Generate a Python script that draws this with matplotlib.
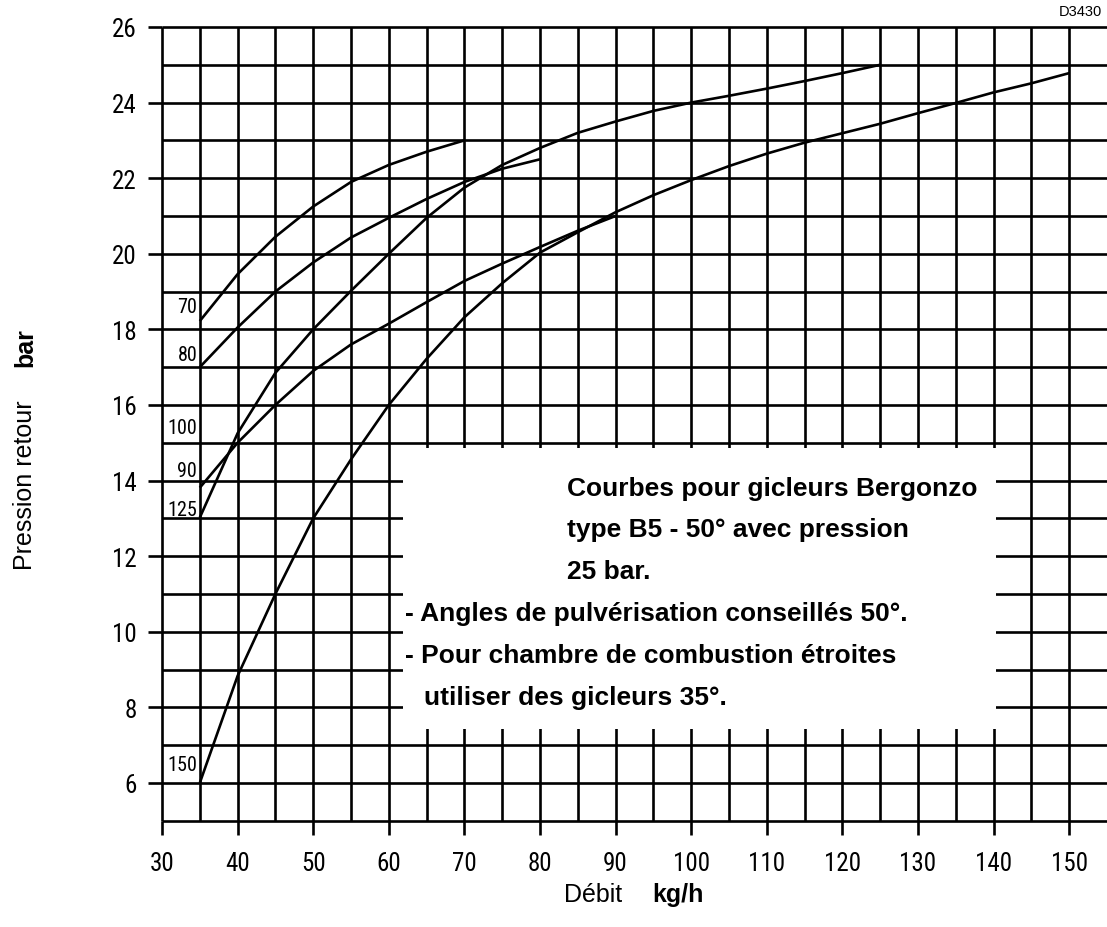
import matplotlib
matplotlib.use("Agg")
import matplotlib.pyplot as plt
from matplotlib import font_manager
from matplotlib.patches import Rectangle

# ---- data (Débit kg/h -> Pression retour bar) ----
x70 = [35, 40, 45, 50, 55, 60, 65, 70]
y70 = [18.22, 19.46, 20.45, 21.25, 21.9, 22.35, 22.7, 23.0]

x80 = [35, 40, 45, 50, 55, 60, 65, 70, 75, 80]
y80 = [17.0, 18.05, 19.0, 19.77, 20.43, 20.95, 21.45, 21.9, 22.25, 22.5]

x90 = [35, 40, 45, 50, 55, 60, 65, 70, 75, 80, 85, 90]
y90 = [13.81, 15.0, 16.0, 16.9, 17.6, 18.15, 18.72, 19.28, 19.74, 20.18, 20.61, 21.0]

x125 = [35, 40, 45, 50, 55, 60, 65, 70, 75, 80, 85, 90, 95, 100, 105, 110, 115, 120, 125]
y125 = [13.02, 15.25, 16.85, 18.0, 19.02, 20.0, 20.95, 21.75, 22.35, 22.8, 23.2, 23.5,
        23.78, 24.0, 24.18, 24.37, 24.57, 24.78, 25.0]

x150 = [35, 40, 45, 50, 55, 60, 65, 70, 75, 80, 85, 90, 95, 100, 105, 110, 115, 120,
        125, 130, 135, 140, 145, 150]
y150 = [6.0, 8.83, 11.0, 13.0, 14.56, 16.0, 17.22, 18.32, 19.22, 20.03, 20.57, 21.1,
        21.55, 21.95, 22.32, 22.65, 22.94, 23.19, 23.44, 23.72, 23.99, 24.27, 24.51, 24.78]

curves = [(x70, y70), (x80, y80), (x90, y90), (x125, y125), (x150, y150)]

# curve tags as printed left of x=35 (label, baseline y)
tag_text = ["70", "80", "100", "90", "125", "150"]
tag_y    = [18.45, 17.2, 15.27, 14.11, 13.1, 6.34]

xticks = list(range(30, 151, 10))
yticks = list(range(6, 27, 2))

note_lines = [
    ("Courbes pour gicleurs Bergonzo", 83.6, 13.63),
    ("type B5 - 50° avec pression", 83.6, 12.53),
    ("25 bar.", 83.6, 11.42),
    ("- Angles de pulvérisation conseillés 50°.", 62.2, 10.32),
    ("- Pour chambre de combustion étroites", 62.2, 9.21),
    ("utiliser des gicleurs 35°.", 64.7, 8.10),
]

# pick a condensed face for the numerals if one is installed
fonts = font_manager.fontManager.ttflist
names = {f.name for f in fonts}
NARROW, STRETCH = ["Liberation Sans"], "normal"
for cand in ("Liberation Sans Narrow", "Arial Narrow", "Roboto Condensed", "Open Sans Condensed"):
    if cand in names:
        NARROW = [cand, "Liberation Sans"]
        break
else:
    if any(f.name == "DejaVu Sans" and f.stretch == "condensed" for f in fonts):
        NARROW, STRETCH = ["DejaVu Sans"], "condensed"
SANS = ["Liberation Sans", "DejaVu Sans"]

W, H = 1107, 928
fig = plt.figure(figsize=(W / 100, H / 100), dpi=100)
ax = fig.add_axes([162 / W, 106.3 / H, 945 / W, 793.7 / H])
ax.set_xlim(30, 155)
ax.set_ylim(5, 26)
for s in ax.spines.values():
    s.set_visible(False)

LW = 1.9
# grid
for y in range(5, 27):
    ax.hlines(y, 30, 155, color="black", lw=LW, clip_on=False, zorder=1)
for x in range(30, 151, 5):
    ax.vlines(x, 5, 26, color="black", lw=LW, clip_on=False, zorder=1)

# blank panel for the note
ax.add_patch(Rectangle((61.9, 7.43), 140.35 - 61.9, 14.87 - 7.43,
                       facecolor="white", edgecolor="none", zorder=2))

for xs, ys in curves:
    ax.plot(xs, ys, color="black", lw=LW, solid_capstyle="butt", zorder=3)

for t, y in zip(tag_text, tag_y):
    ax.text(34.65, y, t, ha="right", va="baseline", fontsize=14.5, family=NARROW,
            fontstretch=STRETCH, zorder=4)

for t, x, y in note_lines:
    ax.text(x, y, t, ha="left", va="baseline", fontsize=19, fontweight="bold",
            family=SANS, zorder=4)

ax.set_xticks(xticks)
ax.set_yticks(yticks)
ax.set_xticklabels([str(v) for v in xticks], family=NARROW, fontstretch=STRETCH, fontsize=18)
ax.set_yticklabels([str(v) for v in yticks], family=NARROW, fontstretch=STRETCH, fontsize=18)
ax.tick_params(axis="both", direction="out", length=10, width=LW, color="black")
ax.tick_params(axis="x", pad=12)
ax.tick_params(axis="y", pad=8)

# axis titles
fig.text(622 / W, 1 - 902 / H, "Débit", ha="right", va="baseline", fontsize=18, family=SANS)
fig.text(652 / W, 1 - 902 / H, "kg/h", ha="left", va="baseline", fontsize=18,
         fontweight="bold", family=SANS)
fig.text(32 / W, 1 - 570 / H, "Pression retour", rotation=90, rotation_mode="anchor",
         ha="left", va="baseline", fontsize=18, family=SANS)
fig.text(32 / W, 1 - 367 / H, "bar", rotation=90, rotation_mode="anchor",
         ha="left", va="baseline", fontsize=18, fontweight="bold", family=SANS)

fig.text(1102 / W, 1 - 12.5 / H, "D3430", ha="right", va="center", fontsize=10.5, family=SANS)

fig.savefig("out.png", dpi=100)
